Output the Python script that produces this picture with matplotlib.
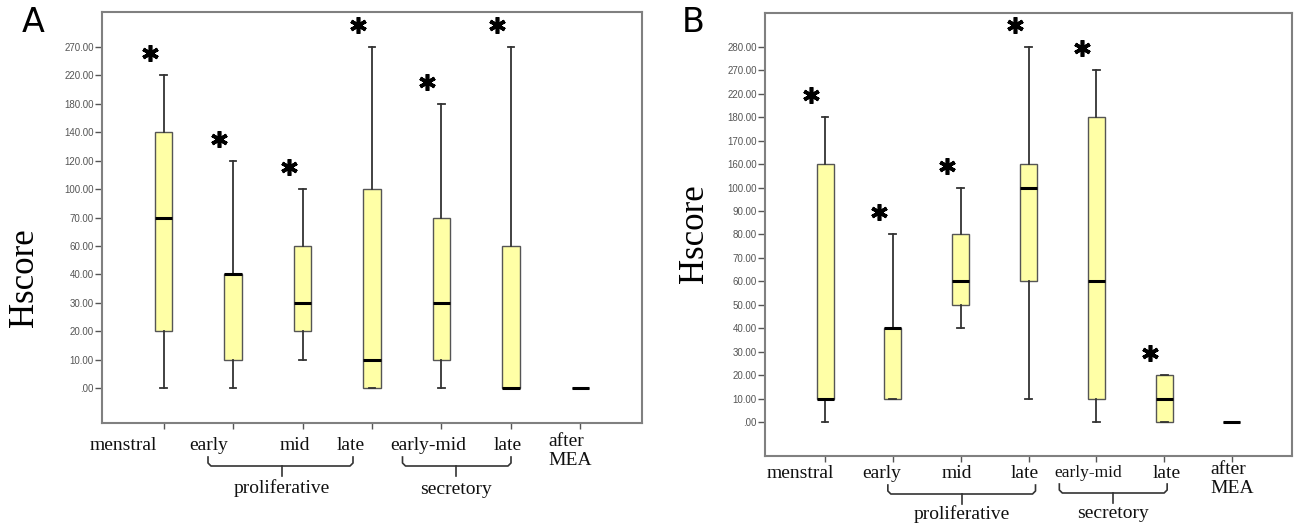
# Hscore boxplots across cycle phases, two panels (A, B) with ordinal y axes
import matplotlib
matplotlib.use("Agg")
import matplotlib.pyplot as plt
from matplotlib import transforms

W, H = 1298, 526

groups = ["menstral", "early", "mid", "late", "early-mid", "late", "after\nMEA"]

# y tick values (the axis is ordinal: equal spacing between listed values)
ticks_a = [0, 10, 20, 30, 40, 60, 70, 100, 120, 140, 180, 220, 270]
ticks_b = [0, 10, 20, 30, 40, 50, 60, 70, 80, 90, 100, 160, 170, 180, 220, 270, 280]

# panel A: whisker low, q1, median, q3, whisker high
a_low = [0, 0, 10, 0, 0, 0, 0]
a_q1 = [20, 10, 20, 0, 10, 0, 0]
a_med = [70, 40, 30, 10, 30, 0, 0]
a_q3 = [140, 40, 60, 100, 70, 60, 0]
a_high = [220, 120, 100, 270, 180, 270, 0]
a_star = [True, True, True, True, True, True, False]

# panel B
b_low = [0, 10, 40, 10, 0, 0, 0]
b_q1 = [10, 10, 50, 60, 10, 0, 0]
b_med = [10, 40, 60, 100, 60, 10, 0]
b_q3 = [160, 40, 80, 160, 180, 20, 0]
b_high = [180, 80, 100, 280, 270, 20, 0]
b_star = [True, True, True, True, True, True, False]

SERIF = "Liberation Serif"
SANS = "Liberation Sans"

fig = plt.figure(figsize=(W / 100, H / 100), dpi=100)


def fx(x, y):
    # pixel (from top-left) -> figure fraction
    return x / W, 1 - y / H


def panel(rect, ticks, low, q1, med, q3, high, star, ylim, letter, letter_xy, ylab_xy,
          label_dx, label_y, label_sizes, braces):
    ax = fig.add_axes(rect)
    idx = lambda v: ticks.index(v)
    stats = []
    for i in range(len(groups)):
        stats.append(dict(whislo=idx(low[i]), q1=idx(q1[i]), med=idx(med[i]),
                          q3=idx(q3[i]), whishi=idx(high[i]), fliers=[]))
    pos = list(range(len(groups)))
    ax.bxp(stats, positions=pos, widths=0.25, patch_artist=True, showfliers=False,
           capwidths=0.1,
           boxprops=dict(facecolor="#FFFFA6", edgecolor="#555555", linewidth=1.0),
           medianprops=dict(color="black", linewidth=2.2),
           whiskerprops=dict(color="#333333", linewidth=1.3),
           capprops=dict(color="#333333", linewidth=1.3))
    ax.set_xlim(-0.885, len(groups) - 1 + 0.885)
    ax.set_ylim(*ylim)
    ax.set_yticks(range(len(ticks)))
    ax.set_yticklabels([("%.2f" % t).lstrip("0") if t == 0 else "%.2f" % t for t in ticks],
                       fontfamily=SANS, fontsize=7, color="#555555")
    ax.set_xticks(pos)
    ax.set_xticklabels([])
    ax.tick_params(axis="y", length=5, width=1, color="#555555", pad=1)
    ax.tick_params(axis="x", length=4, width=1, color="#555555")
    for s in ax.spines.values():
        s.set_color("#808080")
        s.set_linewidth(1.5)

    # significance asterisks above the top whisker
    off = transforms.offset_copy(ax.transData, fig=fig, x=-14, y=22, units="dots")
    for i in pos:
        if star[i]:
            ax.plot(i, idx(high[i]), marker=(6, 2, 0), markersize=12, mew=2.6,
                    color="black", transform=off, clip_on=False)

    fig.canvas.draw()
    tickpx = [ax.transData.transform((p, 0))[0] for p in pos]

    for i, g in enumerate(groups):
        x = tickpx[i] + label_dx[i]
        y = label_y + (6 if "\n" in g else 0)
        fig.text(*fx(x, y), g, ha="center", va="center", fontfamily=SERIF,
                 fontsize=label_sizes[i], linespacing=1.2, multialignment="left",
                 color="#111111")

    for (i0, dx0, i1, dx1, ic, dxc, yl, name, ty) in braces:
        x0 = tickpx[i0] + dx0
        x1 = tickpx[i1] + dx1
        xc = tickpx[ic] + dxc
        r = 3
        xs = [x0, x0, x0 + r, x1 - r, x1, x1]
        ys = [yl - 9, yl - r, yl, yl, yl - r, yl - 9]
        pts = [fx(a, b) for a, b in zip(xs, ys)]
        fig.add_artist(plt.Line2D([p[0] for p in pts], [p[1] for p in pts],
                                  transform=fig.transFigure, color="#333333", lw=1.2))
        c0, c1 = fx(xc, yl), fx(xc, yl + 10)
        fig.add_artist(plt.Line2D([c0[0], c1[0]], [c0[1], c1[1]],
                                  transform=fig.transFigure, color="#333333", lw=1.2))
        fig.text(*fx(xc, ty), name, ha="center", va="center", fontfamily=SERIF,
                 fontsize=14, color="#111111")

    fig.text(*fx(*letter_xy), letter, ha="center", va="center", fontfamily="DejaVu Sans",
             fontsize=24)
    fig.text(*fx(*ylab_xy), "Hscore", ha="center", va="center", rotation=90,
             fontfamily=SERIF, fontsize=25)
    return ax


panel([102 / W, 1 - 423 / H, (642 - 102) / W, (423 - 12) / H], ticks_a,
      a_low, a_q1, a_med, a_q3, a_high, a_star, (-1.23, 13.23), "A", (33, 22), (24, 278),
      [-40, -24, -8, -21, -13, -3, -10], 445, [14, 14, 14, 14, 14, 14, 14],
      [(1, -25, 3, -19, 2, -21, 466, "proliferative", 488),
       (4, -39, 5, 0, 4, 15, 466, "secretory", 490)])

panel([765 / W, 1 - 456 / H, (1292 - 765) / W, (456 - 13) / H], ticks_b,
      b_low, b_q1, b_med, b_q3, b_high, b_star, (-1.45, 17.45), "B", (693, 22), (695, 234),
      [-25, -11, -4, -4, -8, 3, 0], 473, [14, 14, 14, 14, 12.5, 14, 14],
      [(1, -5, 3, 7, 2, 1, 494, "proliferative", 514),
       (4, -37, 5, 3, 4, 17, 493, "secretory", 514)])

fig.savefig("out.png", dpi=100)
